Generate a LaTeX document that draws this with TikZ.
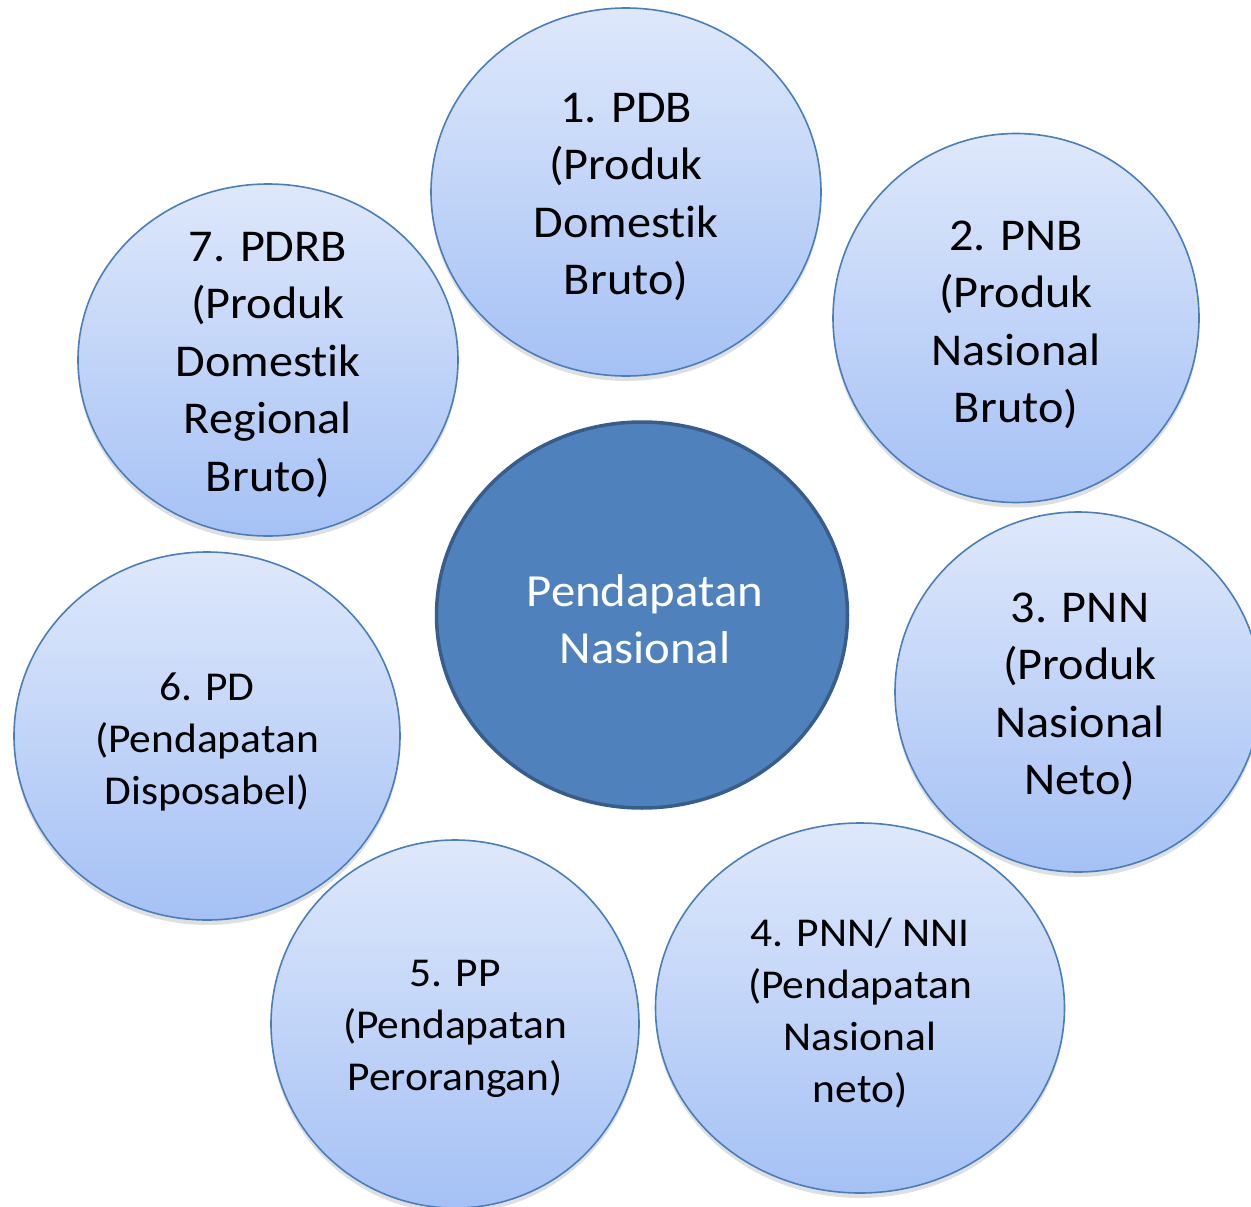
\documentclass[tikz,border=0pt]{standalone}
\usepackage{fontspec}
\setmainfont{Carlito}[Ligatures=NoCommon, FakeStretch=1.06]
\usetikzlibrary{shapes.geometric,shadows}
\definecolor{rim}{HTML}{4A7EBB}
\definecolor{topc}{HTML}{DEE8FB}
\definecolor{botc}{HTML}{A5C1F5}
\definecolor{midfill}{HTML}{4F81BD}
\definecolor{midrim}{HTML}{385D8A}
\tikzset{
  bubble/.style={ellipse, draw=rim, line width=1.6pt, top color=topc, bottom color=botc,
    inner sep=0pt, drop shadow={opacity=0.25, shadow xshift=0pt, shadow yshift=-5pt}},
  bigtxt/.style={align=center, font=\fontsize{45.5}{57.5}\selectfont, text=black},
  smalltxt/.style={align=center, font=\fontsize{41}{52}\selectfont, text=black},
  hub/.style={ellipse, draw=midrim, line width=3.5pt, fill=midfill, inner sep=0pt},
  hubtxt/.style={align=center, font=\fontsize{46}{57}\selectfont, text=white}
}
\begin{document}
\begin{tikzpicture}[x=1pt,y=-1pt]
\useasboundingbox (0,0) rectangle (1251,1207);
\begin{scope}
\clip (0,0) rectangle (1251,1207);
\node[hub, minimum width=411pt, minimum height=386pt] (hub) at (642,615) {};
\node[hubtxt] (hubt) at (645,619) {Pendapatan\\Nasional};

\node[bubble, minimum width=380pt, minimum height=352pt] (c7) at (268,360) {};
\node[bubble, minimum width=390pt, minimum height=368pt] (c1) at (626,192) {};
\node[bubble, minimum width=366pt, minimum height=369pt] (c2) at (1016,318) {};
\node[bubble, minimum width=366pt, minimum height=360pt] (c3) at (1078,692) {};
\node[bubble, minimum width=409pt, minimum height=370pt] (c4) at (860,1008) {};
\node[bubble, minimum width=368pt, minimum height=368pt] (c5) at (455,1024) {};
\node[bubble, minimum width=386pt, minimum height=368pt] (c6) at (207,736) {};

\node[bigtxt] (t1) at (626,197) {1. PDB\\(Produk\\Domestik\\Bruto)};
\node[bigtxt] (t2) at (1016,325) {2. PNB\\(Produk\\Nasional\\Bruto)};
\node[bigtxt] (t3) at (1080,697) {3. PNN\\(Produk\\Nasional\\Neto)};
\node[smalltxt] (t4) at (860,1013) {4. PNN/ NNI\\(Pendapatan\\Nasional\\neto)};
\node[smalltxt] (t5) at (455,1029) {5. PP\\(Pendapatan\\Perorangan)};
\node[smalltxt] (t6) at (207,742) {6. PD\\(Pendapatan\\Disposabel)};
\node[bigtxt] (t7) at (268,365) {7. PDRB\\(Produk\\Domestik\\Regional\\Bruto)};
\end{scope}
\end{tikzpicture}
\end{document}
